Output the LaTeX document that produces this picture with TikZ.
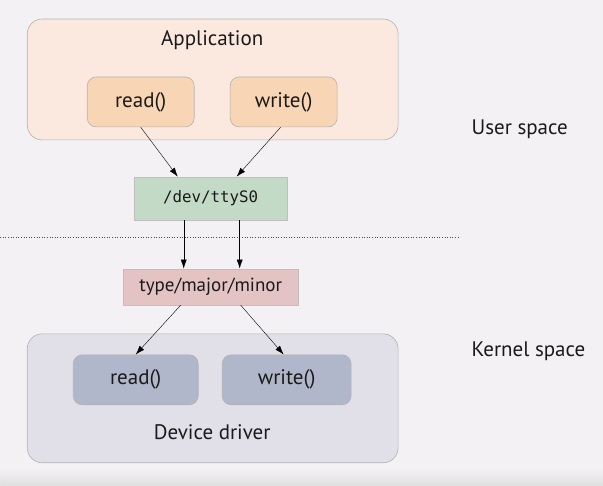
\documentclass[tikz,border=0pt]{standalone}
\usepackage{fontspec}
\setmainfont{PT Sans}
\setmonofont{DejaVu Sans Mono}
\usetikzlibrary{arrows.meta}
\definecolor{bgcol}{HTML}{F3F1F4}
\definecolor{appfill}{HTML}{FBE8DF}
\definecolor{appcall}{HTML}{F8D5B5}
\definecolor{ttyfill}{HTML}{C3DBC6}
\definecolor{devfill}{HTML}{E4C3C4}
\definecolor{drvfill}{HTML}{E1E0E8}
\definecolor{drvcall}{HTML}{B1B7CA}
\definecolor{txtcol}{HTML}{1A1A1A}
\tikzset{
  space/.style={draw=black!30, rounded corners=15pt, line width=0.6pt},
  call/.style={draw=black!30, rounded corners=9pt, line width=0.6pt,
    font=\fontsize{21}{24}\selectfont, text=txtcol},
  flat/.style={draw=black!25, line width=0.6pt, text=txtcol},
  spacetext/.style={font=\fontsize{21}{24}\selectfont, text=txtcol},
}
\begin{document}
\begin{tikzpicture}[x=1pt, y=1pt, >={Latex[length=9pt,width=6pt]}]

\fill[bgcol] (0,0) rectangle (603,486);
\shade[top color=bgcol, bottom color=black!12] (0,0) rectangle (603,18);

% user side
\node[space, fill=appfill, minimum width=371pt, minimum height=121pt] (app) at (212.5,406.5) {};
\node[spacetext] (apptext) at (212,446) {Application};
\node[call, fill=appcall, minimum width=107pt, minimum height=50pt] (readA) at (140.5,384) {read()};
\node[call, fill=appcall, minimum width=107pt, minimum height=50pt] (writeA) at (283.5,384) {write()};

\node[flat, fill=ttyfill, minimum width=153pt, minimum height=43pt,
  font=\ttfamily\fontsize{15.8}{18}\selectfont] (tty) at (210.5,287.5) {/dev/ttyS0};

\draw[black!70, dotted, line width=0.6pt] (0,249) -- (458,249);

% kernel side
\node[flat, fill=devfill, minimum width=175pt, minimum height=36pt,
  font=\fontsize{19}{22}\selectfont] (dev) at (210.5,199) {type/major/minor};
\node[space, fill=drvfill, minimum width=371pt, minimum height=129pt] (drv) at (212.5,87.5) {};
\node[call, fill=drvcall, minimum width=125pt, minimum height=50pt] (readD) at (135.5,106) {read()};
\node[call, fill=drvcall, minimum width=129pt, minimum height=50pt] (writeD) at (286.5,106) {write()};
\node[spacetext] (drvtext) at (212,54) {Device driver};

\node[spacetext, anchor=west] (user) at (468,357) {User space};
\node[spacetext, anchor=west] (kernel) at (468,135) {Kernel space};

% arrows
\draw[->] (readA.south) -- ([xshift=-33pt]tty.north);
\draw[->] ([xshift=-3pt]writeA.south) -- ([xshift=26pt]tty.north);
\draw[->] ([xshift=-27pt]tty.south) -- ([xshift=-27pt]dev.north);
\draw[->] ([xshift=29pt]tty.south) -- ([xshift=29pt]dev.north);
\draw[->] ([xshift=-30pt]dev.south) -- (readD.north);
\draw[->] ([xshift=30pt]dev.south) -- ([xshift=-3pt]writeD.north);

\end{tikzpicture}
\end{document}
